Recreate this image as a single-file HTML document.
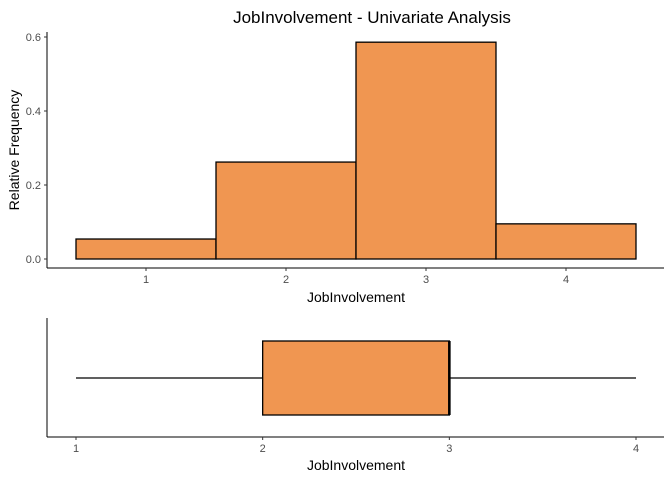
<!DOCTYPE html>
<html><head><meta charset="utf-8"><style>
body{margin:0;background:#fff;}
svg{display:block;font-family:"Liberation Sans",sans-serif;}
</style></head><body>
<svg id="c" width="672" height="480">
<text x="372" y="23" text-anchor="middle" font-size="17" fill="#000">JobInvolvement - Univariate Analysis</text>
<g id="gtop"></g>
<g id="gbot"></g>
</svg>
<script>
const categories=[1,2,3,4];
const relFreq=[0.054,0.262,0.586,0.095];
const yTicks=[0.0,0.2,0.4,0.6];
const yTickLabels=["0.0","0.2","0.4","0.6"];
const xTicks=[1,2,3,4];
const boxStats=[1,2,3,3,4]; // min,q1,median,q3,max
const NS="http://www.w3.org/2000/svg";
function mk(p,t,a){const e=document.createElementNS(NS,t);for(const k in a)e.setAttribute(k,a[k]);p.appendChild(e);return e;}
const gTop=document.getElementById('gtop'),gBot=document.getElementById('gbot');
const xT=v=>146+(v-1)*140, yT=v=>259-v*370;
let e=mk(gTop,'line',{x1:47,y1:32,x2:47,y2:268,stroke:'#000'});


e=mk(gTop,'line',{x1:47,y1:268,x2:664,y2:268,stroke:'#000'});


yTicks.forEach((v,i)=>{mk(gTop,'line',{x1:44,x2:47,y1:yT(v),y2:yT(v),stroke:'#333'});
 e=mk(gTop,'text',{x:41,y:yT(v)+4,'text-anchor':'end','font-size':11,fill:'#4d4d4d'});e.textContent=yTickLabels[i];
 
 });
categories.forEach((c,i)=>{
 e=mk(gTop,'rect',{x:xT(c-0.5),y:yT(relFreq[i]),width:140,height:yT(0)-yT(relFreq[i]),fill:'#F09651',stroke:'#000','stroke-width':1.3});
 
 });
xTicks.forEach(v=>{mk(gTop,'line',{x1:xT(v),x2:xT(v),y1:268,y2:271,stroke:'#333'});
 e=mk(gTop,'text',{x:xT(v),y:283,'text-anchor':'middle','font-size':11,fill:'#4d4d4d'});e.textContent=v;
 
 });
e=mk(gTop,'text',{x:356,y:302,'text-anchor':'middle','font-size':14});e.textContent='JobInvolvement';


e=mk(gTop,'text',{x:19,y:150,'text-anchor':'middle','font-size':14,transform:'rotate(-90 19 150)'});e.textContent='Relative Frequency';


const xB=v=>76+(v-1)*186.67;
e=mk(gBot,'line',{x1:47,y1:318,x2:47,y2:437,stroke:'#000'});


e=mk(gBot,'line',{x1:47,y1:437,x2:664,y2:437,stroke:'#000'});


e=mk(gBot,'line',{x1:xB(boxStats[0]),x2:xB(boxStats[1]),y1:378,y2:378,stroke:'#000','stroke-width':1.3});


e=mk(gBot,'line',{x1:xB(boxStats[3]),x2:xB(boxStats[4]),y1:378,y2:378,stroke:'#000','stroke-width':1.3});


e=mk(gBot,'rect',{x:xB(boxStats[1]),y:341,width:xB(boxStats[3])-xB(boxStats[1]),height:74,fill:'#F09651',stroke:'#000','stroke-width':1.3});


e=mk(gBot,'line',{x1:xB(boxStats[2]),x2:xB(boxStats[2]),y1:341,y2:415,stroke:'#000','stroke-width':2.6});


xTicks.forEach(v=>{mk(gBot,'line',{x1:xB(v),x2:xB(v),y1:437,y2:440,stroke:'#333'});
 e=mk(gBot,'text',{x:xB(v),y:452,'text-anchor':'middle','font-size':11,fill:'#4d4d4d'});e.textContent=v;
 
 });
e=mk(gBot,'text',{x:356,y:470,'text-anchor':'middle','font-size':14});e.textContent='JobInvolvement';


</script>
</body></html>
